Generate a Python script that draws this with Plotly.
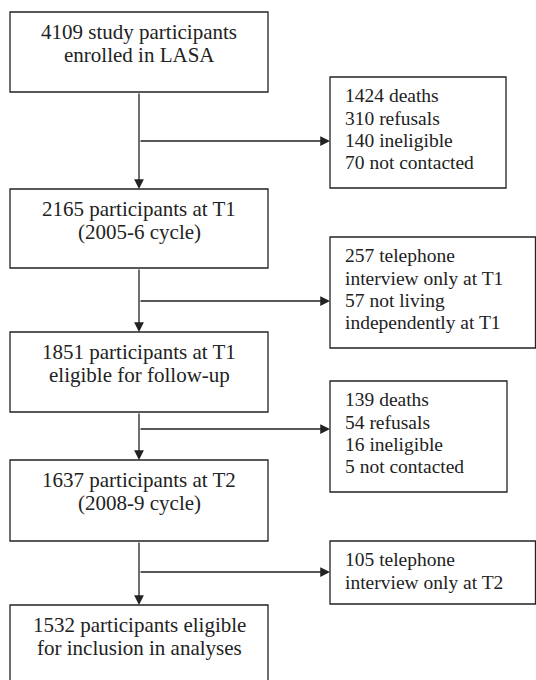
import plotly.graph_objects as go

# ---- data (texts of the flowchart) ----
main_lines = [
    ["4109 study participants", "enrolled in LASA"],
    ["2165 participants at T1", "(2005-6 cycle)"],
    ["1851 participants at T1", "eligible for follow-up"],
    ["1637 participants at T2", "(2008-9 cycle)"],
    ["1532 participants eligible", "for inclusion in analyses"],
]
side_lines = [
    ["1424 deaths", "310 refusals", "140 ineligible", "70 not contacted"],
    ["257 telephone", "interview only at T1", "57 not living", "independently at T1"],
    ["139 deaths", "54 refusals", "16 ineligible", "5 not contacted"],
    ["105 telephone", "interview only at T2"],
]

# ---- geometry (pixel coordinates, y downward) ----
W, H = 536, 680
main_x0, main_x1 = 10, 268
cx = (main_x0 + main_x1) / 2
main_y = [(12, 92), (189, 268), (332, 412), (460, 541), (605, 700)]
side_x0 = 330
side_boxes = [(506, 77, 188), (535.5, 237, 348), (507, 381, 492), (535.5, 541, 604)]
branch_y = [141, 301, 429, 572]

INK = "#222222"
FONT = "Liberation Serif, 'Times New Roman', Times, serif"
MAIN_SIZE = 21
SIDE_SIZE = 19.5
LW = 1.3

fig = go.Figure()
shapes = []
annotations = []

def text_line(x, baseline, s, size, anchor):
    annotations.append(dict(
        x=x, y=baseline - 0.3375 * size, xref="x", yref="y",
        text=s, showarrow=False, xanchor=anchor, yanchor="middle",
        font=dict(family=FONT, size=size, color=INK),
        borderpad=0, borderwidth=0,
    ))

def arrow(x, y, ax, ay):
    annotations.append(dict(
        x=x, y=y, ax=ax, ay=ay, xref="x", yref="y", axref="x", ayref="y",
        text="", showarrow=True, arrowhead=2, arrowsize=1.5,
        arrowwidth=LW, arrowcolor=INK, standoff=0, startstandoff=0,
    ))

# main boxes
for (y0, y1), lines in zip(main_y, main_lines):
    shapes.append(dict(type="rect", xref="x", yref="y", x0=main_x0, x1=main_x1,
                       y0=y0, y1=y1, line=dict(color=INK, width=LW),
                       fillcolor="rgba(0,0,0,0)"))
    for i, s in enumerate(lines):
        text_line(cx, y0 + 27 + 23.3 * i, s, MAIN_SIZE, "center")

# vertical arrows between main boxes
for k in range(len(main_y) - 1):
    arrow(cx, main_y[k + 1][0], cx, main_y[k][1])

# side boxes + horizontal arrows
for (x1, y0, y1), lines, by in zip(side_boxes, side_lines, branch_y):
    shapes.append(dict(type="rect", xref="x", yref="y", x0=side_x0, x1=x1,
                       y0=y0, y1=y1, line=dict(color=INK, width=LW),
                       fillcolor="rgba(0,0,0,0)"))
    for i, s in enumerate(lines):
        text_line(345, y0 + 25.5 + 22.3 * i, s, SIDE_SIZE, "left")
    arrow(side_x0, by, cx, by)

fig.update_layout(
    width=W, height=H,
    margin=dict(l=0, r=0, t=0, b=0),
    paper_bgcolor="white", plot_bgcolor="white",
    xaxis=dict(range=[0, W], visible=False, fixedrange=True),
    yaxis=dict(range=[H, 0], visible=False, fixedrange=True),
    shapes=shapes, annotations=annotations, showlegend=False,
)

fig.write_html(
    "out.html",
    config={"displayModeBar": False},
    post_script="document.body.style.margin='0';document.body.style.overflow='hidden';",
)
